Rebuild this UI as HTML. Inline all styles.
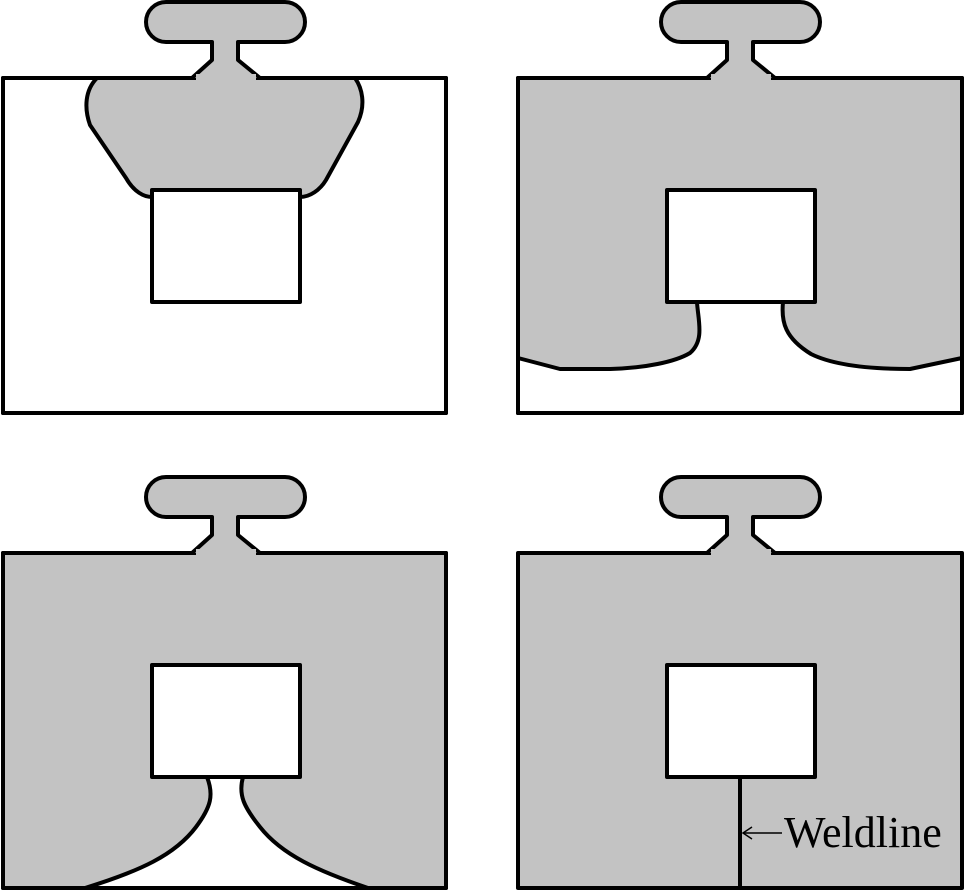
<!DOCTYPE html>
<html><head><meta charset="utf-8"><style>body{margin:0;background:#fff}svg{display:block}</style></head>
<body>
<svg width="967" height="895" viewBox="0 0 967 895" xmlns="http://www.w3.org/2000/svg">
<defs>
<g id="sprue">
<path d="M192,78 L212,60 V42 H166 A20,20 0 0 1 166,2 H285 A20,20 0 0 1 285,42 H238 V60 L260,78" fill="#c3c3c3" stroke="#000" stroke-width="4" stroke-linejoin="round"/>
<rect x="196" y="74" width="60" height="10" fill="#c3c3c3" stroke="none"/>
</g>
</defs>
<g stroke="#000" stroke-width="4" stroke-linejoin="round">
<!-- TL -->
<g>
<rect x="3" y="78" width="443" height="335" fill="#fff"/>
<path d="M97,78 C85,90 84,108 90,125 L126,178 C134,192 144,197 152,197 L300,197 C310,197 320,190 326,180 L358,122 C366,104 362,88 355,78 Z" fill="#c3c3c3"/>
<rect x="3" y="78" width="443" height="335" fill="none"/>
<rect x="152" y="190" width="148" height="112" fill="#fff"/>
<use href="#sprue"/>
</g>
<!-- TR -->
<g transform="translate(515,0)">
<rect x="3" y="78" width="444" height="335" fill="#c3c3c3"/>
<path d="M3,358 L45,369 L95,369 C130,368 160,362 175,353 C190,340 183,320 182,302 H268 C266,322 270,338 296,354 C320,366 360,369 395,369 L447,358 V413 H3 Z" fill="#fff"/>
<rect x="3" y="78" width="444" height="335" fill="none"/>
<rect x="152" y="190" width="148" height="112" fill="#fff"/>
<use href="#sprue"/>
</g>
<!-- BL -->
<g transform="translate(0,475)">
<rect x="3" y="78" width="443" height="335" fill="#c3c3c3"/>
<path d="M207,302 C214,320 211,332 196,352 C175,380 140,396 85,413 H368 C318,396 282,380 260,352 C244,332 238,320 243,302 Z" fill="#fff"/>
<rect x="3" y="78" width="443" height="335" fill="none"/>
<rect x="152" y="190" width="148" height="112" fill="#fff"/>
<use href="#sprue"/>
</g>
<!-- BR -->
<g transform="translate(515,475)">
<rect x="3" y="78" width="444" height="335" fill="#c3c3c3"/>
<rect x="152" y="190" width="148" height="112" fill="#fff"/>
<line x1="225" y1="302" x2="225" y2="413"/>
<use href="#sprue"/>
</g>
</g>
<line x1="744" y1="833" x2="782" y2="833" stroke="#000" stroke-width="1.5"/>
<path d="M752,827 L743,833 L752,839" fill="none" stroke="#000" stroke-width="1.5"/>
<text x="784" y="847" font-family="Liberation Serif, serif" font-size="44">Weldline</text>
</svg>
</body></html>
